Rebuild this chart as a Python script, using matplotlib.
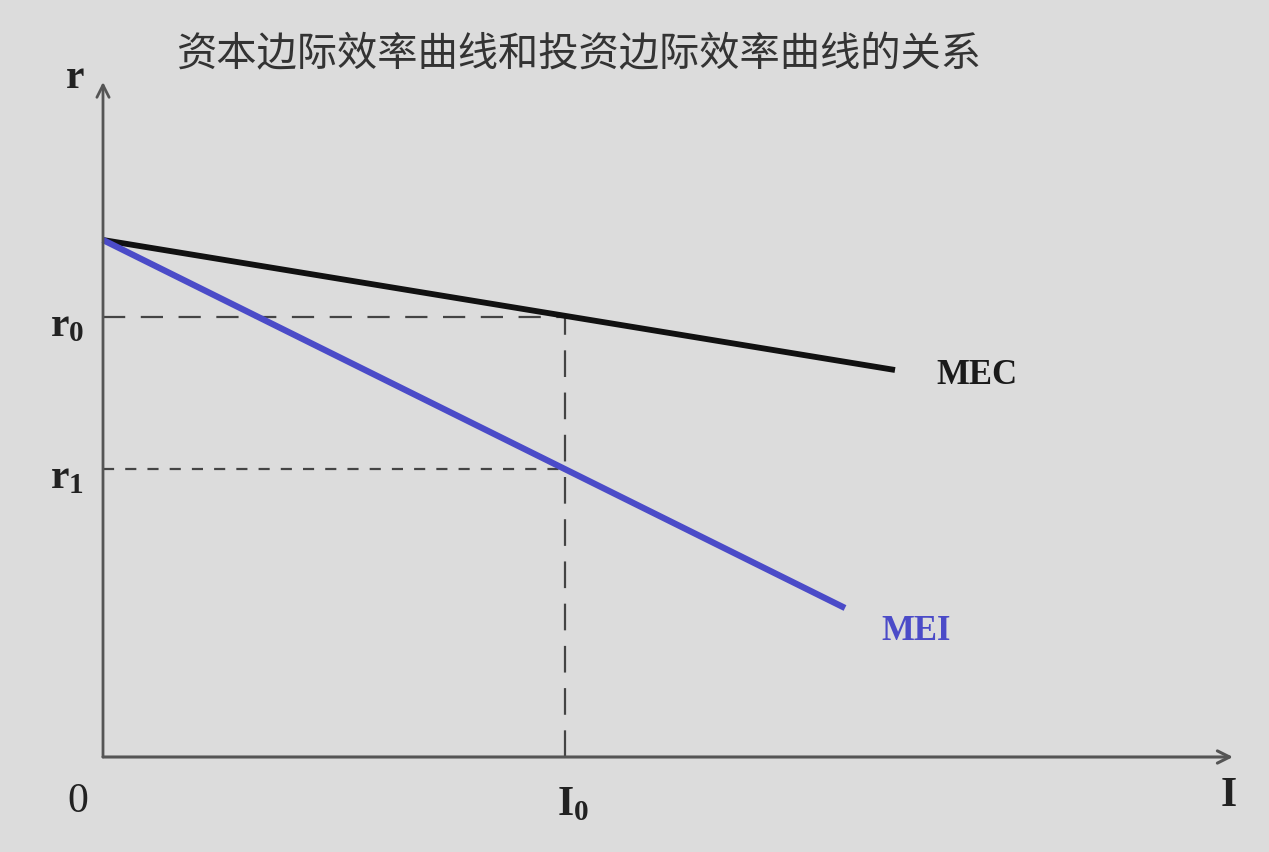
"""
MEC / MEI relationship diagram.
"""

import matplotlib
matplotlib.use("Agg")
import matplotlib.pyplot as plt

plt.rcParams['font.family'] = ['Noto Sans CJK SC', 'DejaVu Sans']
plt.rcParams['mathtext.fontset'] = 'custom'
plt.rcParams['mathtext.rm'] = 'Liberation Serif'
plt.rcParams['mathtext.bf'] = 'Liberation Serif:bold'
plt.rcParams['mathtext.it'] = 'Liberation Serif'

# data (arbitrary units, origin at 0)
mec_x = [0.0, 7.92]
mec_y = [5.17, 3.87]
mei_x = [0.0, 7.42]
mei_y = [5.17, 1.49]
I0 = 4.62
r0 = 4.40
r1 = 2.88
x_end = 11.3
y_end = 6.75

title = '资本边际效率曲线和投资边际效率曲线的关系'

bg = '#dcdcdc'
blue = '#4b4bc8'
axis_c = '#555555'
serif = ['Liberation Serif', 'DejaVu Serif']

fig = plt.figure(figsize=(12.69, 8.52), dpi=100, facecolor=bg)
ax = fig.add_axes([0, 0, 1, 1])
ax.set_facecolor(bg)
ax.set_xlim(-1.03, 11.66)
ax.set_ylim(-0.95, 7.57)
ax.axis('off')

# axes with arrows
ax.annotate('', xy=(x_end, 0), xytext=(0, 0),
            arrowprops=dict(arrowstyle='->', color=axis_c, lw=2.2,
                            shrinkA=0, shrinkB=0, mutation_scale=22))
ax.annotate('', xy=(0, y_end), xytext=(0, 0),
            arrowprops=dict(arrowstyle='->', color=axis_c, lw=2.0,
                            shrinkA=0, shrinkB=0, mutation_scale=22))

# guide lines
ax.plot([0, I0], [r0, r0], color='#444444', lw=1.6, ls=(0, (10, 7)))
ax.plot([0, I0], [r1, r1], color='#444444', lw=1.6, ls=(0, (5, 5)))
ax.plot([I0, I0], [0, r0], color='#444444', lw=1.6, ls=(0, (12, 7)))

# curves
ax.plot(mec_x, mec_y, color='#111111', lw=4.2, solid_capstyle='butt')
ax.plot(mei_x, mei_y, color=blue, lw=4.5, solid_capstyle='butt')

# labels
ax.text(4.76, 7.02, title, fontsize=29, ha='center', va='center', color='#333333')
ax.text(8.33, 3.82, 'MEC', fontsize=25, family=serif, weight='bold',
        ha='left', va='center', color='#1a1a1a')
ax.text(7.78, 1.25, 'MEI', fontsize=25, family=serif, weight='bold',
        ha='left', va='center', color=blue)

lbl = dict(fontsize=30, ha='center', va='center', color='#222222')
ax.text(-0.28, 6.80, r'$\mathbf{r}$', **lbl)
ax.text(-0.36, r0 - 0.08, r'$\mathbf{r_0}$', **lbl)
ax.text(-0.36, r1 - 0.08, r'$\mathbf{r_1}$', **lbl)
ax.text(-0.25, -0.43, r'$\mathrm{0}$', **lbl)
ax.text(I0 + 0.08, -0.47, r'$\mathbf{I_0}$', **lbl)
ax.text(11.25, -0.38, r'$\mathbf{I}$', **lbl)

fig.savefig('out.png', dpi=100, facecolor=bg)
